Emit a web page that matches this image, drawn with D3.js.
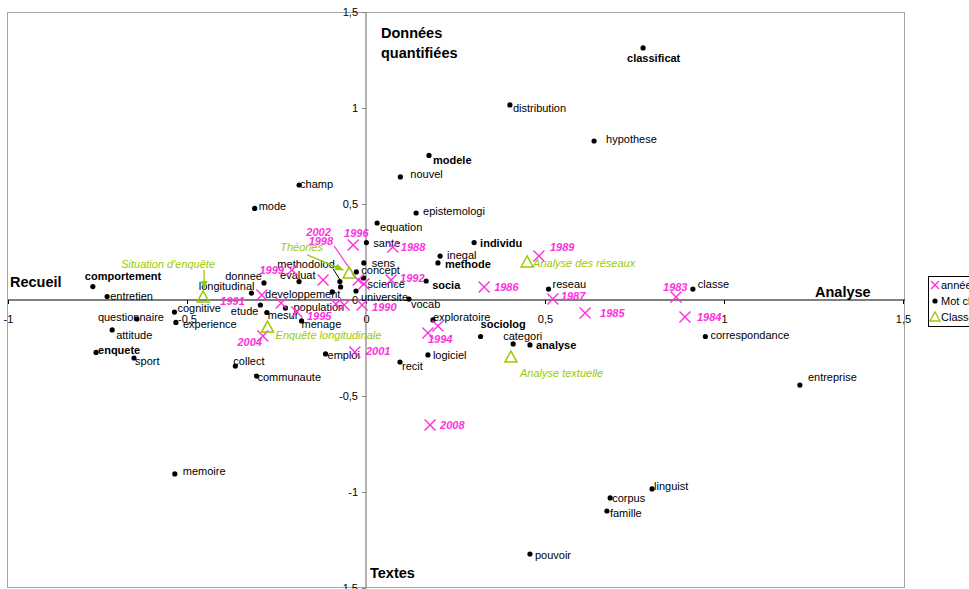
<!DOCTYPE html>
<html><head><meta charset="utf-8">
<script src="https://cdn.jsdelivr.net/npm/d3@7"></script>
<style>
html,body{margin:0;padding:0;background:#fff;overflow:hidden}
svg{display:block;font-family:"Liberation Sans",Arial,sans-serif}
</style></head>
<body>
<svg id="c" width="969" height="589"></svg>
<script>
// ---------- DATA ----------
const wordLabels = ["classificat","distribution","hypothese","modele","nouvel","champ","mode","epistemologi","equation","sante","individu","inegal","methode","sens","concept","science","universite","vocab","socia","reseau","classe","correspondance","entreprise","exploratoire","sociolog","categori","analyse","logiciel","recit","emploi","collect","communaute","memoire","linguist","corpus","famille","pouvoir","comportement","entretien","questionnaire","attitude","enquete","sport","cognitive","experience","donnee","longitudinal","etude","mesur","population","menage","evaluat","developpement","methodolod","methodolog"];
const wordX = [0.774,0.402,0.637,0.176,0.096,-0.187,-0.311,0.140,0.031,0.001,0.302,0.207,0.201,-0.006,-0.027,-0.007,-0.028,0.120,0.168,0.510,0.913,0.948,1.212,0.187,0.320,0.411,0.458,0.173,0.095,-0.113,-0.365,-0.306,-0.534,0.799,0.682,0.673,0.458,-0.763,-0.723,-0.640,-0.709,-0.754,-0.648,-0.535,-0.531,-0.285,-0.320,-0.295,-0.277,-0.225,-0.180,-0.187,-0.094,-0.073,-0.071];
const wordY = [1.313,1.016,0.828,0.753,0.641,0.599,0.477,0.453,0.401,0.299,0.299,0.229,0.193,0.193,0.146,0.115,0.047,0.005,0.099,0.057,0.057,-0.190,-0.443,-0.104,-0.190,-0.229,-0.234,-0.286,-0.323,-0.281,-0.344,-0.396,-0.906,-0.984,-1.031,-1.099,-1.323,0.070,0.018,-0.099,-0.156,-0.273,-0.302,-0.063,-0.117,0.089,0.036,-0.026,-0.065,-0.042,-0.109,0.096,0.042,0.096,0.068];

const yearLabels = ["1983","1984","1985","1986","1987","1988","1989","1990","1991","1992","1993","1994","1995","1996","1997","1998","1999","2000","2001","2002","2003","2004","2005","2008"];
const yearX = [0.866,0.891,0.612,0.330,0.522,0.075,0.483,-0.011,-0.291,0.070,0.201,0.173,-0.193,-0.036,-0.120,-0.022,-0.207,-0.237,-0.031,-0.006,-0.084,-0.288,-0.061,0.179];
const yearY = [0.016,-0.089,-0.068,0.068,0.005,0.276,0.229,-0.026,0.026,0.104,-0.135,-0.172,-0.063,0.286,0.104,0.104,0.156,-0.016,-0.271,0.083,-0.021,-0.188,-0.026,-0.651];

const classLabels = ["Situation d'enquête","Théories","Enquête longitudinale","Analyse des réseaux","Analyse textuelle"];
const classX = [-0.455,-0.047,-0.275,0.450,0.405];
const classY = [0.016,0.141,-0.141,0.198,-0.297];

const xTickValues = [-1,-0.5,0,0.5,1,1.5];
const xTickLabels = ["-1","-0,5","0","0,5","1","1,5"];
const yTickValues = [-1.5,-1,-0.5,0,0.5,1,1.5];
const yTickLabels = ["-1,5","-1","-0,5","0","0,5","1","1,5"];

const legendLabels = ["années","Mot clé","Classes"];

// ---------- STYLE / PLACEMENT ----------
const MAG = "#ff2fe0", GRN = "#99cc00";
const boldWords = new Set(["classificat","modele","individu","methode","socia","sociolog","analyse","comportement","enquete"]);
// [dx, dyCenter, anchor]
const wordPlace = {
 classificat:[-16,10],distribution:[3,3],hypothese:[12,-2],modele:[4,5],nouvel:[10,-3],champ:[1,-1],mode:[4,-2],
 epistemologi:[7,-2],equation:[3,4],sante:[7,0],individu:[6,0],inegal:[7,-1],methode:[7,1],sens:[8,0],concept:[5,-2],
 science:[4,6],universite:[5,6],vocab:[2,5],socia:[6,4],reseau:[4,-5],classe:[5,-5],correspondance:[5,-1],entreprise:[8,-8],
 exploratoire:[0,-3],sociolog:[0,-12],categori:[-10,-8],analyse:[6,0],logiciel:[5,0],recit:[2,4],emploi:[2,1],collect:[-2,-5],
 communaute:[1,1],memoire:[8,-3],linguist:[2,-3],corpus:[2,0],famille:[3,2],pouvoir:[5,1],comportement:[-8,-11],entretien:[3,-1],
 questionnaire:[-39,-2],attitude:[4,5],enquete:[2,-2],sport:[1,3],cognitive:[3,-4],experience:[7,2],donnee:[-2,-7,"end"],
 longitudinal:[3,-7,"end"],etude:[-2,6,"end"],mesur:[1,3],population:[8,-1],menage:[0,3],evaluat:[-19,-7],
 developpement:[8,2,"end"],methodolod:[-5,-18,"end"]
};
const wordLeaders = {methodolod:[[-7,-13],[0,-2]]};
const yearPlace = {
 "1983":[-13,-10],"1984":[12,0],"1985":[15,0],"1986":[10,0],"1987":[8,-3],"1988":[8,0],"1989":[11,-9],"1990":[10,2],
 "1991":[-17,6,"end"],"1992":[9,-2],"1994":[0,6],"1995":[10,4],"1996":[-9,-12],"1998":[-25,-39,"end"],"1999":[-8,0,"end"],
 "2001":[11,-1],"2002":[-33,-52,"end"],"2004":[-1,6,"end"],"2008":[10,0]
};
const yearLeaders = {"1998":[[-24,-34],[-2,-2]]};
const classPlace = {
 "Situation d'enquête":[-35,-33,"middle"],"Théories":[-69,-26],"Enquête longitudinale":[8,8],
 "Analyse des réseaux":[6,1],"Analyse textuelle":[9,16]
};
const classArrows = {"Situation d'enquête":[[1,-27],[1,-8]],"Théories":[[-42,-18],[-6,-3]]};

// ---------- CHART ----------
const svg = d3.select("#c");
const x = d3.scaleLinear().domain([-1,1.5]).range([8,903]);
const y = d3.scaleLinear().domain([-1.5,1.5]).range([588,12]);

const defs = svg.append("defs");
defs.append("marker").attr("id","ag").attr("viewBox","0 0 10 10").attr("refX",9).attr("refY",5)
  .attr("markerWidth",7).attr("markerHeight",7).attr("orient","auto")
  .append("path").attr("d","M0,1L10,5L0,9Z").attr("fill",GRN);

// frame
svg.append("rect").attr("x",x(-1)-0.5).attr("y",y(1.5)+0.5).attr("width",x(1.5)-x(-1)+2).attr("height",y(-1.5)-y(1.5)-1)
  .attr("fill","none").attr("stroke","#a6a6a6").attr("stroke-width",1);

// axes
const xAxis = d3.axisBottom(x).tickValues(xTickValues).tickFormat((d,i)=>xTickLabels[i]).tickSize(4).tickPadding(11);
const gx = svg.append("g").attr("transform",`translate(0,${y(0)})`).call(xAxis);
gx.select(".domain").remove();
gx.selectAll("line").attr("stroke","#000");
gx.selectAll("text").attr("font-size",11).attr("fill","#000").attr("font-family","Liberation Sans, Arial, sans-serif");

const yAxis = d3.axisLeft(y).tickValues(yTickValues).tickFormat((d,i)=>yTickLabels[i]).tickSize(4).tickPadding(4);
const gy = svg.append("g").attr("transform",`translate(${x(0)},0)`).call(yAxis);
gy.select(".domain").remove();
gy.selectAll("line").attr("stroke","#808080");
gy.selectAll("text").attr("font-size",11).attr("fill","#000").attr("font-family","Liberation Sans, Arial, sans-serif");

svg.append("line").attr("x1",x(0)).attr("x2",x(0)).attr("y1",y(1.5)).attr("y2",y(-1.5)).attr("stroke","#808080").attr("stroke-width",1.2);
svg.append("line").attr("x1",x(-1)).attr("x2",x(1.5)+2).attr("y1",y(0)).attr("y2",y(0)).attr("stroke","#000").attr("stroke-width",1.2);

// axis titles
const tstyle = s=>s.attr("font-size",14.5).attr("font-weight","bold").attr("fill","#000");
tstyle(svg.append("text").attr("x",10).attr("y",287).text("Recueil"));
tstyle(svg.append("text").attr("x",815).attr("y",297).text("Analyse"));
tstyle(svg.append("text").attr("x",381).attr("y",38).text("Données"));
tstyle(svg.append("text").attr("x",381).attr("y",58).text("quantifiées"));
tstyle(svg.append("text").attr("x",370).attr("y",578).text("Textes"));

// words (dots)
const words = wordLabels.map((l,i)=>({l,x:wordX[i],y:wordY[i]}));
const gw = svg.append("g");
words.forEach(d=>{
  const px=x(d.x), py=y(d.y);
  const lead = wordLeaders[d.l];
  if(lead) gw.append("line").attr("x1",px+lead[0][0]).attr("y1",py+lead[0][1]).attr("x2",px+lead[1][0]).attr("y2",py+lead[1][1]).attr("stroke","#000").attr("stroke-width",1);
  gw.append("circle").attr("cx",px).attr("cy",py).attr("r",2.6).attr("fill","#000");
  const p = wordPlace[d.l];
  if(p) gw.append("text").attr("x",px+p[0]).attr("y",py+p[1]+4).attr("text-anchor",p[2]||"start")
    .attr("font-size",11).attr("font-weight",boldWords.has(d.l)?"bold":"normal").attr("fill","#000").text(d.l);
});

// years (X marks)
const years = yearLabels.map((l,i)=>({l,x:yearX[i],y:yearY[i]}));
const gyr = svg.append("g");
years.forEach(d=>{
  const px=x(d.x), py=y(d.y), s=5.5;
  const lead = yearLeaders[d.l];
  if(lead) gyr.append("line").attr("x1",px+lead[0][0]).attr("y1",py+lead[0][1]).attr("x2",px+lead[1][0]).attr("y2",py+lead[1][1]).attr("stroke",MAG).attr("stroke-width",1.2);
  gyr.append("path").attr("d",`M${px-s},${py-s}L${px+s},${py+s}M${px-s},${py+s}L${px+s},${py-s}`).attr("stroke",MAG).attr("stroke-width",1.4).attr("fill","none");
  const p = yearPlace[d.l];
  if(p) gyr.append("text").attr("x",px+p[0]).attr("y",py+p[1]+4).attr("text-anchor",p[2]||"start")
    .attr("font-size",11).attr("font-weight","bold").attr("font-style","italic").attr("fill",MAG).text(d.l);
});

// classes (triangles)
const classes = classLabels.map((l,i)=>({l,x:classX[i],y:classY[i]}));
const gc = svg.append("g");
classes.forEach(d=>{
  const px=x(d.x), py=y(d.y);
  const ar = classArrows[d.l];
  if(ar) gc.append("line").attr("x1",px+ar[0][0]).attr("y1",py+ar[0][1]).attr("x2",px+ar[1][0]).attr("y2",py+ar[1][1])
    .attr("stroke",GRN).attr("stroke-width",1.3).attr("marker-end","url(#ag)");
  gc.append("path").attr("d",`M${px},${py-6}L${px+6},${py+5}L${px-6},${py+5}Z`).attr("fill","none").attr("stroke",GRN).attr("stroke-width",1.5);
  const p = classPlace[d.l];
  gc.append("text").attr("x",px+p[0]).attr("y",py+p[1]+4).attr("text-anchor",p[2]||"start")
    .attr("font-size",11).attr("font-style","italic").attr("fill",GRN).text(d.l);
});

// legend
const lg = svg.append("g").attr("transform","translate(928,276)");
lg.append("rect").attr("x",0.5).attr("y",0.5).attr("width",80).attr("height",50).attr("fill","#fff").attr("stroke","#000");
legendLabels.forEach((l,i)=>{
  const cy = 9+i*16, cx=7;
  if(i===0) lg.append("path").attr("d",`M${cx-4},${cy-4}L${cx+4},${cy+4}M${cx-4},${cy+4}L${cx+4},${cy-4}`).attr("stroke",MAG).attr("stroke-width",1.4);
  if(i===1) lg.append("circle").attr("cx",cx).attr("cy",cy).attr("r",2.6).attr("fill","#000");
  if(i===2) lg.append("path").attr("d",`M${cx},${cy-5}L${cx+5},${cy+4}L${cx-5},${cy+4}Z`).attr("fill","none").attr("stroke",GRN).attr("stroke-width",1.4);
  lg.append("text").attr("x",13).attr("y",cy+4).attr("font-size",11).attr("fill","#000").text(l);
});
</script>
</body></html>
